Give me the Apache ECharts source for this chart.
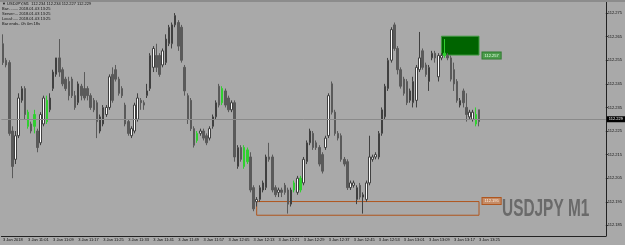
<!DOCTYPE html>
<html>
<head>
<meta charset="utf-8">
<title>USDJPY M1</title>
<script src="https://cdn.jsdelivr.net/npm/echarts@6/dist/echarts.min.js"></script>
<style>
  html, body { margin: 0; padding: 0; background: #a9a9a9; }
  #main { width: 625px; height: 245px; }
</style>
</head>
<body>
<div id="main"></div>
<script>
// OHLC, 1 minute bars from 10:53 to 13:25 (3 Jan 2018)
var opens = [
  112.262,112.255,112.254,112.225,112.213,112.223,112.238,112.243,112.233,112.228,
  112.227,112.225,112.220,112.228,112.238,112.234,112.243,112.249,112.256,112.251,
  112.247,112.246,112.247,112.240,112.237,112.244,112.243,112.243,112.240,112.238,
  112.237,112.225,112.228,112.232,112.235,112.249,112.251,112.247,112.243,112.236,
  112.229,112.223,112.225,112.230,112.238,112.237,112.240,112.243,112.252,112.257,
  112.257,112.253,112.254,112.262,112.262,112.270,112.271,112.269,112.252,112.240,
  112.238,112.226,112.224,112.224,112.225,112.223,112.222,112.227,112.231,112.244,
  112.243,112.242,112.239,112.234,112.237,112.210,112.218,112.218,112.212,112.214,
  112.201,112.195,112.196,112.200,112.201,112.214,112.214,112.201,112.199,112.200,
  112.202,112.200,112.194,112.200,112.199,112.205,112.203,112.212,112.220,112.224,
  112.220,112.218,112.215,112.218,112.223,112.245,112.233,112.224,112.223,112.213,
  112.212,112.201,112.202,112.196,112.202,112.197,112.196,112.203,112.213,112.214,
  112.214,112.224,112.231,112.243,112.255,112.270,112.260,112.251,112.247,112.246,
  112.238,112.237,112.238,112.251,112.259,112.253,112.246,112.256,112.258,112.248,
  112.256,112.258,112.257,112.256,112.251,112.246,112.236,112.242,112.235,112.231,
  112.230,112.232,112.234
];
var closes = [
  112.254,112.253,112.224,112.210,112.223,112.239,112.243,112.232,112.227,112.225,
  112.232,112.218,112.232,112.239,112.229,112.239,112.250,112.256,112.250,112.245,
  112.243,112.240,112.240,112.235,112.245,112.240,112.239,112.240,112.235,112.234,
  112.229,112.231,112.235,112.235,112.248,112.238,112.247,112.241,112.240,112.228,
  112.224,112.226,112.236,112.239,112.237,112.236,112.242,112.257,112.260,112.252,
  112.249,112.259,112.264,112.269,112.270,112.274,112.261,112.255,112.242,112.230,
  112.226,112.219,112.221,112.225,112.222,112.220,112.226,112.231,112.237,112.236,
  112.237,112.236,112.234,112.237,112.214,112.218,112.213,112.210,112.217,112.200,
  112.192,112.196,112.201,112.203,112.214,112.213,112.200,112.198,112.200,112.199,
  112.199,112.194,112.200,112.203,112.205,112.200,112.213,112.220,112.225,112.218,
  112.218,112.211,112.208,112.222,112.240,112.233,112.224,112.222,112.213,112.211,
  112.201,112.203,112.203,112.201,112.197,112.198,112.203,112.214,112.214,112.215,
  112.224,112.234,112.244,112.255,112.268,112.260,112.251,112.244,112.241,112.237,
  112.242,112.246,112.252,112.256,112.252,112.249,112.252,112.258,112.256,112.257,
  112.257,112.257,112.256,112.247,112.245,112.238,112.238,112.237,112.232,112.233,
  112.233,112.228,112.229
];
var lows = [
  112.253,112.252,112.223,112.205,112.211,112.222,112.237,112.230,112.226,112.224,
  112.224,112.216,112.219,112.227,112.228,112.233,112.242,112.248,112.248,112.244,
  112.242,112.238,112.239,112.234,112.236,112.238,112.238,112.238,112.234,112.233,
  112.222,112.224,112.227,112.231,112.234,112.237,112.246,112.240,112.239,112.227,
  112.223,112.222,112.224,112.229,112.234,112.234,112.239,112.242,112.250,112.250,
  112.248,112.252,112.253,112.261,112.260,112.269,112.259,112.254,112.240,112.228,
  112.225,112.218,112.220,112.223,112.221,112.219,112.221,112.226,112.230,112.235,
  112.236,112.235,112.233,112.233,112.212,112.209,112.212,112.209,112.211,112.199,
  112.191,112.193,112.195,112.199,112.200,112.212,112.199,112.197,112.197,112.197,
  112.198,112.190,112.193,112.199,112.198,112.199,112.202,112.211,112.219,112.217,
  112.217,112.210,112.207,112.217,112.222,112.232,112.223,112.221,112.212,112.210,
  112.200,112.200,112.201,112.194,112.196,112.190,112.195,112.202,112.212,112.213,
  112.213,112.223,112.230,112.242,112.254,112.259,112.249,112.243,112.240,112.236,
  112.237,112.235,112.235,112.250,112.251,112.248,112.242,112.255,112.254,112.246,
  112.255,112.256,112.255,112.246,112.242,112.237,112.235,112.235,112.229,112.230,
  112.229,112.227,112.227
];
var highs = [
  112.266,112.256,112.255,112.227,112.225,112.241,112.244,112.244,112.234,112.229,
  112.234,112.226,112.233,112.240,112.240,112.241,112.251,112.256,112.264,112.252,
  112.248,112.248,112.248,112.242,112.246,112.245,112.250,112.244,112.241,112.239,
  112.238,112.232,112.236,112.236,112.249,112.252,112.253,112.248,112.244,112.237,
  112.230,112.227,112.237,112.241,112.239,112.238,112.245,112.258,112.261,112.262,
  112.258,112.260,112.266,112.270,112.271,112.275,112.272,112.270,112.253,112.241,
  112.239,112.227,112.225,112.226,112.226,112.224,112.227,112.232,112.238,112.245,
  112.244,112.243,112.240,112.238,112.238,112.219,112.219,112.219,112.218,112.216,
  112.202,112.197,112.202,112.204,112.215,112.220,112.215,112.202,112.201,112.201,
  112.203,112.201,112.201,112.204,112.206,112.206,112.214,112.221,112.226,112.225,
  112.221,112.219,112.216,112.223,112.241,112.246,112.234,112.225,112.224,112.214,
  112.213,112.204,112.204,112.202,112.203,112.199,112.204,112.223,112.215,112.216,
  112.225,112.235,112.245,112.256,112.269,112.271,112.261,112.252,112.248,112.247,
  112.243,112.248,112.253,112.267,112.260,112.254,112.253,112.259,112.259,112.258,
  112.258,112.264,112.258,112.257,112.254,112.247,112.239,112.243,112.241,112.234,
  112.234,112.235,112.234
];
// bars drawn in green on the reference
var greenBars = [8, 10, 14, 62, 70, 77, 78, 93, 95, 141, 151];

var tickLabels = [
  "3 Jan 2018", "3 Jan 11:01", "3 Jan 11:09", "3 Jan 11:17", "3 Jan 11:25",
  "3 Jan 11:33", "3 Jan 11:41", "3 Jan 11:49", "3 Jan 11:57", "3 Jan 12:05",
  "3 Jan 12:13", "3 Jan 12:21", "3 Jan 12:29", "3 Jan 12:37", "3 Jan 12:45",
  "3 Jan 12:53", "3 Jan 13:01", "3 Jan 13:09", "3 Jan 13:17", "3 Jan 13:25"
];
var priceTicks = [112.185, 112.195, 112.205, 112.215, 112.225, 112.235, 112.245, 112.255, 112.265, 112.275];
var bidPrice = 112.229;
var greenZone = { from: 140, to: 152, top: 112.2652, bottom: 112.2572, label: "112.257" };
var orangeZone = { from: 81, to: 152, top: 112.1951, bottom: 112.1893, label: "112.195" };
var headerLines = [
  "\u25BC USDJPY,M1  112.234 112.234 112.227 112.229",
  "Bar:........ 2018.01.03 13:25",
  "Server:... 2018.01.03 13:25",
  "Local:..... 2018.01.03 13:25",
  "Bar ends.. 0h 0m 18s"
];

var page = {
  init: function() {
    var chart = echarts.init(document.getElementById("main"));
    chart.setOption(page.option());
  },
  option: function() {
    var slots = 193; // bars + empty chart shift on the right
    var times = [];
    for (var i = 0; i < slots; i++) {
      var m = 10 * 60 + 53 + i;
      var hh = Math.floor(m / 60), mm = m % 60;
      times.push("3 Jan " + hh + ":" + (mm < 10 ? "0" : "") + mm);
    }
    var candles = [];
    for (var k = 0; k < opens.length; k++) {
      var item = { value: [opens[k], closes[k], lows[k], highs[k]] };
      if (greenBars.indexOf(k) > -1) {
        item.itemStyle = { color: "#30d030", color0: "#30d030", borderColor: "#30d030", borderColor0: "#30d030" };
      }
      candles.push(item);
    }
    var showTick = function(index) {
      return index % 8 === 0 && index <= 152;
    };
    var header = headerLines.map(function(t, i) {
      return {
        type: "text", x: 2, y: 4 + i * 5,
        style: { text: t, fill: "#111", font: "4px 'Liberation Sans'", textVerticalAlign: "middle" }
      };
    });
    return {
      backgroundColor: "#a9a9a9",
      animation: false,
      grid: { left: 0, right: 17, top: 2, bottom: 9 },
      xAxis: {
        type: "category",
        data: times,
        boundaryGap: true,
        axisLine: { lineStyle: { color: "#222", width: 1 } },
        axisTick: { interval: showTick, alignWithLabel: true, length: 2, lineStyle: { color: "#222" } },
        axisLabel: {
          interval: showTick,
          formatter: function(v, i) { return tickLabels[i / 8]; },
          align: "left", margin: 2, fontSize: 4, color: "#111", fontFamily: "Liberation Sans"
        },
        splitLine: { show: false }
      },
      yAxis: {
        type: "value",
        position: "right",
        min: 112.1805,
        max: 112.2797,
        axisLine: { show: true, lineStyle: { color: "#222", width: 1 } },
        axisTick: { show: true, length: 2, customValues: priceTicks, lineStyle: { color: "#222" } },
        axisLabel: {
          customValues: priceTicks,
          formatter: function(v) { return v.toFixed(3); },
          margin: 2, fontSize: 4, color: "#111", fontFamily: "Liberation Sans"
        },
        splitLine: { show: false }
      },
      series: [
        {
          type: "candlestick",
          data: candles,
          barWidth: 2,
          itemStyle: {
            color: "#ffffff",
            color0: "#5a5a5a",
            borderColor: "#404040",
            borderColor0: "#5a5a5a",
            borderWidth: 1
          },
          markLine: {
            silent: true,
            symbol: "none",
            data: [{ yAxis: bidPrice }],
            lineStyle: { color: "#8a8a8a", width: 1, type: "solid" },
            label: {
              position: "end",
              formatter: bidPrice.toFixed(3),
              backgroundColor: "#000",
              color: "#fff",
              fontSize: 4,
              padding: [1, 2],
              distance: 1,
              fontFamily: "Liberation Sans"
            }
          },
          markArea: {
            silent: true,
            data: [
              [
                {
                  xAxis: greenZone.from, yAxis: greenZone.top,
                  itemStyle: { color: "#006400", borderColor: "#3f9a3f", borderWidth: 1, opacity: 1 },
                  label: {
                    show: true, position: ["100%", "100%"], offset: [3, 0],
                    verticalAlign: "middle", align: "left",
                    formatter: greenZone.label, fontSize: 4, color: "#e8ffe8",
                    backgroundColor: "#4c9c4c", borderColor: "#2f7a2f", borderWidth: 1,
                    padding: [1, 2], fontFamily: "Liberation Sans"
                  }
                },
                { xAxis: greenZone.to, yAxis: greenZone.bottom }
              ],
              [
                {
                  xAxis: orangeZone.from, yAxis: orangeZone.top,
                  itemStyle: { color: "rgba(0,0,0,0)", borderColor: "#b0561e", borderWidth: 1, opacity: 1 },
                  label: {
                    show: true, position: ["100%", 0], offset: [3, 0],
                    verticalAlign: "middle", align: "left",
                    formatter: orangeZone.label, fontSize: 4, color: "#fff2e6",
                    backgroundColor: "#c58b66", borderColor: "#b0561e", borderWidth: 1,
                    padding: [1, 2], fontFamily: "Liberation Sans"
                  }
                },
                { xAxis: orangeZone.to, yAxis: orangeZone.bottom }
              ]
            ]
          }
        }
      ],
      graphic: [
        { type: "rect", shape: { x: 0, y: 0, width: 625, height: 2 }, style: { fill: "#8c8c8c" }, z: 100 },
        {
          type: "text", x: 502, y: 198, scaleX: 0.67,
          style: { text: "USDJPY M1", fill: "#6a6a6a", font: "bold 23px 'Liberation Sans'" },
          z: 100
        }
      ].concat(header)
    };
  }
};
page.init();
</script>
</body>
</html>
